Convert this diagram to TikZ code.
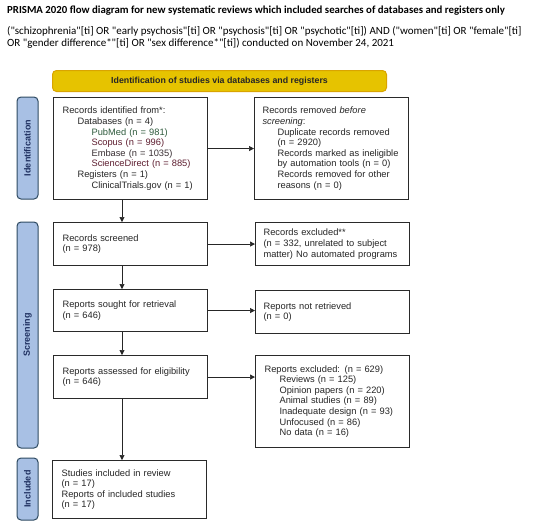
\documentclass[tikz,border=0pt]{standalone}
\usepackage{fontspec}
\setmainfont{Liberation Sans}
\newfontfamily\calib{Carlito}
\usetikzlibrary{arrows.meta,calc}
\definecolor{bannerfill}{HTML}{E6C300}
\definecolor{bannerdraw}{HTML}{D9A400}
\definecolor{sidefill}{HTML}{A8C0E4}
\definecolor{sidedraw}{HTML}{2E4A62}
\definecolor{sidetext}{HTML}{1F3060}
\definecolor{boxdraw}{HTML}{2A2A2A}
\definecolor{pmgreen}{HTML}{2E5A3C}
\definecolor{dbred}{HTML}{5E1E30}
\definecolor{dbgray}{HTML}{3A3034}
\tikzset{
  flowbox/.style={draw=boxdraw, line width=1.1pt, fill=white, anchor=north west,
    minimum width=154pt, text width=140pt, inner xsep=7pt, inner ysep=3pt,
    align=left, font=\fontsize{9.3}{10.6}\selectfont, text=black!85},
  sidebar/.style={draw=sidedraw, line width=1pt, fill=sidefill, rounded corners=4pt,
    rotate=90, minimum height=21pt, inner sep=0pt,
    font=\fontsize{9}{10}\selectfont\bfseries, text=sidetext},
  arr/.style={-{Triangle[length=5pt,width=5pt]}, line width=0.6pt, draw=black!85}
}
\begin{document}
\begin{tikzpicture}[x=1pt,y=-1pt]
\useasboundingbox[fill=white] (0,0) rectangle (550,523);
% title and query
\node[anchor=north west, inner sep=0pt, font=\calib\fontsize{10.8}{12}\selectfont\bfseries] (title) at (7,6)
  {PRISMA 2020 flow diagram for new systematic reviews which included searches of databases and registers only};
\node[anchor=north west, inner sep=0pt, align=left, font=\calib\fontsize{11}{12.2}\selectfont] (query) at (7,26)
  {("schizophrenia"[ti] OR "early psychosis"[ti] OR "psychosis"[ti] OR "psychotic"[ti]) AND ("women"[ti] OR "female"[ti]\\
   OR "gender difference*"[ti] OR "sex difference*"[ti]) conducted on November 24, 2021};
% banner
\node[draw=bannerdraw, line width=1pt, fill=bannerfill, rounded corners=4pt, anchor=north west,
  minimum width=334pt, minimum height=21pt, inner sep=0pt,
  font=\fontsize{8.8}{10}\selectfont\bfseries, text=black!85] (banner) at (52,70)
  {Identification of studies via databases and registers};
% sidebars
\node[sidebar, minimum width=102pt] (sideid) at (27.5,148) {Identification};
\node[sidebar, minimum width=226pt] (sidescr) at (27.5,335) {Screening};
\node[sidebar, minimum width=62pt] (sideinc) at (27.5,489) {Included};
% left column
\node[flowbox, minimum height=102pt] (ident) at (53,97)
  {\hspace*{2pt}Records identified from*:\\
   \hspace*{17pt}Databases (n = 4)\\
   \hspace*{31pt}\textcolor{pmgreen}{PubMed (n = 981)}\\
   \hspace*{31pt}\textcolor{dbred}{Scopus (n = 996)}\\
   \hspace*{31pt}\textcolor{dbgray}{Embase (n = 1035)}\\
   \hspace*{31pt}\textcolor{dbred}{ScienceDirect (n = 885)}\\
   \hspace*{17pt}Registers (n = 1)\\
   \hspace*{31pt}ClinicalTrials.gov (n = 1)};
\node[flowbox, minimum height=43pt] (screened) at (53,222)
  {\hspace*{2pt}Records screened\\\hspace*{2pt}(n = 978)};
\node[flowbox, minimum height=42pt] (sought) at (53,289)
  {\hspace*{2pt}Reports sought for retrieval\\\hspace*{2pt}(n = 646)};
\node[flowbox, minimum height=43pt] (assessed) at (53,355)
  {\hspace*{2pt}Reports assessed for eligibility\\\hspace*{2pt}(n = 646)};
\node[flowbox, minimum height=58pt] (included) at (52,460)
  {\hspace*{2pt}Studies included in review\\\hspace*{2pt}(n = 17)\\\hspace*{2pt}Reports of included studies\\\hspace*{2pt}(n = 17)};
% right column
\node[flowbox, minimum height=102pt] (removed) at (254,97)
  {\hspace*{1pt}Records removed \textit{before}\\\hspace*{1pt}\textit{screening}:\\
   \hspace*{16pt}Duplicate records removed\\
   \hspace*{16pt}(n = 2920)\\
   \hspace*{16pt}Records marked as ineligible\\
   \hspace*{16pt}by automation tools (n = 0)\\
   \hspace*{16pt}Records removed for other\\
   \hspace*{16pt}reasons (n = 0)};
\node[flowbox, minimum height=43pt] (excluded) at (255,222)
  {\hspace*{1pt}Records excluded**\\\hspace*{1pt}(n = 332, unrelated to subject\\\hspace*{1pt}matter) No automated programs};
\node[flowbox, minimum height=43pt] (notretr) at (255,290)
  {\hspace*{1pt}Reports not retrieved\\\hspace*{1pt}(n = 0)};
\node[flowbox, minimum height=92pt] (repexcl) at (255,355)
  {\hspace*{2pt}Reports excluded: (n = 629)\\
   \hspace*{17pt}Reviews (n = 125)\\
   \hspace*{17pt}Opinion papers (n = 220)\\
   \hspace*{17pt}Animal studies (n = 89)\\
   \hspace*{17pt}Inadequate design (n = 93)\\
   \hspace*{17pt}Unfocused (n = 86)\\
   \hspace*{17pt}No data (n = 16)};
% connectors
\coordinate (col) at (122,0);
\draw[arr] (ident.south -| col) -- (screened.north -| col);
\draw[arr] (screened.south -| col) -- (sought.north -| col);
\draw[arr] (sought.south -| col) -- (assessed.north -| col);
\draw[arr] (assessed.south -| col) -- (included.north -| col);
\draw[arr] (ident.east) -- (ident.east -| removed.west);
\draw[arr] (screened.east) -- (screened.east -| excluded.west);
\draw[arr] (sought.east) -- (sought.east -| notretr.west);
\draw[arr] (assessed.east) -- (assessed.east -| repexcl.west);
\end{tikzpicture}
\end{document}
